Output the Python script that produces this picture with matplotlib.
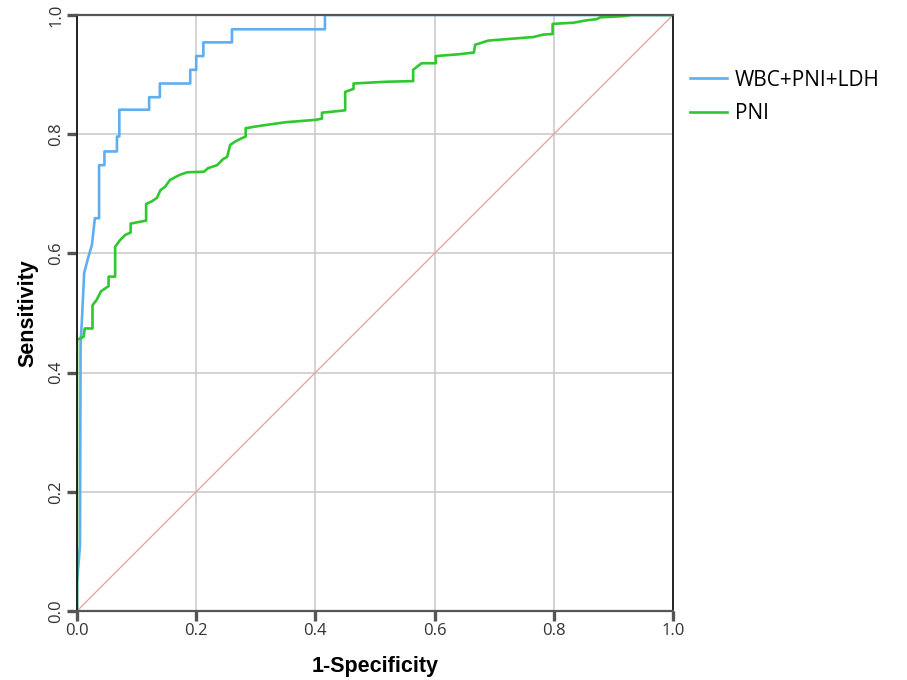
import matplotlib
matplotlib.use("Agg")
import matplotlib.pyplot as plt

# ROC curve vertices (1-specificity, sensitivity)
combo_fpr = [0.0, 0.0, 0.005, 0.006, 0.008, 0.012, 0.019, 0.025, 0.030, 0.037, 0.037,
             0.046, 0.046, 0.067, 0.067, 0.071, 0.071, 0.121, 0.121, 0.139, 0.139,
             0.190, 0.190, 0.200, 0.200, 0.212, 0.212, 0.260, 0.260, 0.416, 0.416, 1.0]
combo_tpr = [0.0, 0.047, 0.110, 0.450, 0.483, 0.567, 0.594, 0.614, 0.659, 0.659, 0.748,
             0.748, 0.771, 0.771, 0.796, 0.796, 0.841, 0.841, 0.862, 0.862, 0.885,
             0.885, 0.908, 0.908, 0.931, 0.931, 0.954, 0.954, 0.976, 0.976, 1.0, 1.0]

pni_fpr = [0.0, 0.0, 0.011, 0.013, 0.026, 0.026, 0.033, 0.040, 0.047, 0.053, 0.053,
           0.064, 0.064, 0.072, 0.081, 0.090, 0.090, 0.116, 0.116, 0.125, 0.134,
           0.140, 0.148, 0.156, 0.165, 0.173, 0.185, 0.213, 0.220, 0.235, 0.245,
           0.252, 0.257, 0.266, 0.276, 0.283, 0.283, 0.307, 0.350, 0.400, 0.411,
           0.411, 0.450, 0.450, 0.464, 0.464, 0.520, 0.564, 0.564, 0.578, 0.602,
           0.602, 0.640, 0.666, 0.668, 0.690, 0.766, 0.782, 0.798, 0.798, 0.833,
           0.855, 0.872, 0.878, 0.917, 0.930, 1.0]
pni_tpr = [0.0, 0.455, 0.460, 0.474, 0.474, 0.513, 0.522, 0.536, 0.541, 0.545, 0.561,
           0.561, 0.611, 0.622, 0.631, 0.635, 0.650, 0.655, 0.683, 0.687, 0.693,
           0.706, 0.712, 0.723, 0.728, 0.732, 0.736, 0.737, 0.743, 0.748, 0.758,
           0.762, 0.782, 0.788, 0.793, 0.796, 0.810, 0.814, 0.820, 0.824, 0.826,
           0.836, 0.840, 0.871, 0.876, 0.885, 0.888, 0.889, 0.908, 0.919, 0.919,
           0.931, 0.934, 0.937, 0.950, 0.957, 0.963, 0.967, 0.968, 0.985, 0.987,
           0.991, 0.993, 0.996, 0.998, 1.0, 1.0]

ref_line = [0.0, 1.0]
ticks = [0.0, 0.2, 0.4, 0.6, 0.8, 1.0]
tick_labels = ["0.0", "0.2", "0.4", "0.6", "0.8", "1.0"]

fig = plt.figure(figsize=(9.07, 6.8), dpi=100)
ax = fig.add_axes([0.0849, 0.1015, 0.6571, 0.8765])

ax.grid(True, color="#c8c8c8", linewidth=1.1)
ax.set_axisbelow(True)
ax.plot(ref_line, ref_line, color="#e8a4a8", linewidth=1.0, zorder=2)
ax.plot(combo_fpr, combo_tpr, color="#5eaef0", linewidth=1.9, label="WBC+PNI+LDH", zorder=3)
ax.plot(pni_fpr, pni_tpr, color="#2fc82f", linewidth=1.9, label="PNI", zorder=3)

ax.set_xlim(0, 1)
ax.set_ylim(0, 1)
ax.set_xticks(ticks)
ax.set_xticklabels(tick_labels, family="Open Sans", fontsize=12, color="#333333")
ax.set_yticks(ticks)
ax.set_yticklabels(tick_labels, family="Open Sans", fontsize=12, color="#333333",
                   rotation=90, va="center")
ax.tick_params(direction="out", length=7, width=2.4, color="#555555", pad=2)

for side in ["left", "right"]:
    ax.spines[side].set_color("#222222")
    ax.spines[side].set_linewidth(1.4)
for side in ["top", "bottom"]:
    ax.spines[side].set_color("#555555")
    ax.spines[side].set_linewidth(1.6)
for sp in ax.spines.values():
    sp.set_zorder(4)

ax.set_xlabel("1-Specificity", family="Liberation Sans", fontweight="bold",
              fontsize=15.5, labelpad=12)
ax.set_ylabel("Sensitivity", family="Liberation Sans", fontweight="bold",
              fontsize=15.5, labelpad=7)

fig.legend(loc="upper left", bbox_to_anchor=(0.740, 0.925), frameon=False,
           prop={"family": "Open Sans", "size": 15}, handlelength=1.8,
           handletextpad=0.35, labelspacing=0.6)

fig.savefig("out.png", dpi=100)
